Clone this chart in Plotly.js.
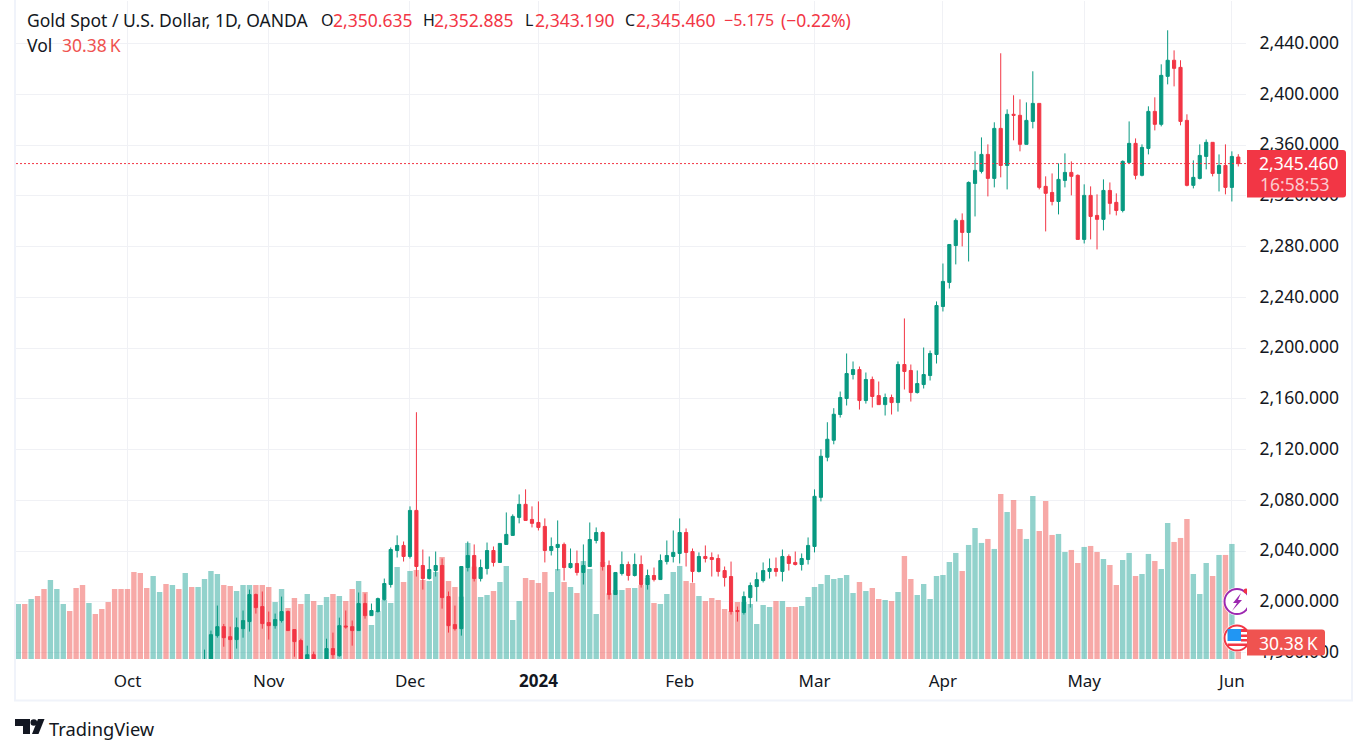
<!DOCTYPE html>
<html>
<head>
<meta charset="utf-8">
<script src="https://cdn.plot.ly/plotly-3.0.1.min.js"></script>
<style>
html,body{margin:0;padding:0;background:#fff;overflow:hidden}
#chart{width:1356px;height:754px}
</style>
</head>
<body>
<div id="chart"></div>
<script>
// volume in thousands, one value per daily bar
const volume = [
  99,99,108,113.4,126,142.2,126,99,86.4,127.8,
  133.2,100.8,81,90,102.6,126,126,126,156.6,154.8,
  127.8,149.4,120.6,135,133.2,126,154.8,129.6,129.6,144,
  158.4,153,133.2,131.4,122.4,133.2,133.2,133.2,133.2,129.6,
  102.6,126,91.8,109.8,99,117,104.4,97.2,111.6,117,
  113.4,104.4,126,140.4,120.6,61.2,86.4,106.2,100.8,165.6,
  138.6,158.4,160.2,142.2,140.4,156.6,183.6,140.4,129.6,112.2,
  208.8,166.2,111.6,115.2,122.4,138.6,167.4,70.2,104.4,145.8,
  142.2,136.8,156.6,120.6,162,138.6,129.6,118.8,176.4,162,
  81,174.6,118.2,124.2,124.2,127.8,127.8,133.2,145.8,100.8,
  99,117,156.6,167.4,140.4,136.8,113.4,104.4,109.8,106.2,
  90,86.4,102.6,102.6,99,63,97.2,93.6,104.4,104.4,
  93.6,93.6,95.4,111.6,129.6,135,151.2,144,145.8,151.2,
  118.8,138.6,122.4,127.8,108,106.2,104.4,120.6,185.4,144,
  115.2,135,108,149.4,151.2,174.6,190.8,158.4,205.2,235.8,
  208.8,216,198,297,264.6,286.2,234,216,293.4,230.4,
  284.4,223.2,225,192.6,196.2,172.8,201.6,203.4,192.6,180,
  169.2,133.2,178.2,190.8,149.4,153,189,176.4,162,244.8,
  210.6,217.8,252,153,117,172.8,149.4,187.2,187.2,207,
  30.38
];

// the candles of these first bars sit below the visible price range,
// so only the colour of their volume bar is known
const earlyVolumeUp = [1,0,1,0,0,1,1,1,0,0,0,1,0,0,0,0,0,0,0,0,0,1,1,0,1,0,1,0,1];

const candleStart = 29;
const opens = [
  1948.4,1951.0,1973.4,1980.5,1972.6,1970.3,1978.9,1984.5,2005.8,1996.3,
  1983.7,1981.3,1985.3,1992.4,1978.2,1969.5,1952.4,1958.4,1947.0,1952.4,
  1963.2,1957.6,1981.0,1980.5,1977.4,1998.7,1989.2,1992.4,2001.8,2013.7,
  2040.5,2044.5,2035.8,2072.1,2028.7,2018.4,2024.7,2028.7,2004.2,1982.1,
  1978.9,2027.1,2036.6,2018.4,2026.3,2040.5,2031.1,2045.3,2052.4,2066.6,
  2076.9,2065.0,2062.6,2059.5,2040.5,2042.9,2045.3,2027.1,2030.3,2023.2,
  2027.9,2048.4,2054.7,2028.7,2005.8,2022.4,2029.5,2020.8,2029.5,2013.7,
  2020.8,2017.6,2031.8,2035.8,2038.2,2054.7,2039.7,2024.0,2035.8,2035.0,
  2034.2,2024.7,2020.0,1993.2,1991.6,2003.4,2012.1,2016.8,2024.0,2026.3,
  2024.0,2035.8,2031.1,2029.5,2033.4,2043.7,2082.4,2114.0,2127.4,2147.7,
  2160.3,2179.2,2183.1,2158.7,2175.3,2162.6,2155.5,2161.1,2157.1,2187.1,
  2182.4,2165.0,2171.3,2178.4,2195.0,2232.8,2251.8,2280.9,2300.7,2291.2,
  2329.8,2339.3,2352.7,2333.8,2373.2,2344.0,2384.3,2383.5,2360.6,2378.7,
  2392.9,2327.5,2322.7,2315.6,2332.2,2338.5,2336.2,2285.7,2320.4,2304.6,
  2301.5,2324.3,2314.9,2308.5,2346.4,2361.4,2336.2,2357.4,2386.6,2376.4,
  2414.2,2426.9,2421.3,2379.5,2328.3,2333.8,2351.1,2362.2,2337.7,2344.0,
  2326.7,2350.635
];
const highs = [
  1962.4,1977.4,1997.1,1982.6,1980.5,1987.6,1993.2,2009.7,2006.6,2008.2,
  1992.4,1990.8,2004.2,1993.2,1978.2,1971.0,1965.5,1960.8,1954.0,1971.0,
  1975.8,1987.6,1993.2,1985.3,2007.4,2006.6,1998.7,2003.4,2018.4,2042.9,
  2052.4,2047.6,2075.3,2149.5,2041.3,2035.8,2039.7,2034.2,2008.2,1997.1,
  2027.9,2047.6,2045.3,2033.4,2046.8,2043.7,2046.1,2070.5,2069.0,2084.7,
  2088.7,2075.3,2079.2,2065.8,2050.8,2064.2,2046.8,2042.1,2040.5,2045.3,
  2062.6,2058.7,2055.5,2032.6,2023.2,2039.7,2031.8,2038.2,2036.6,2025.5,
  2027.1,2037.4,2048.4,2056.3,2065.8,2057.9,2042.1,2039.0,2044.5,2039.0,
  2037.4,2027.9,2031.8,1996.3,2008.2,2015.3,2023.2,2031.1,2034.2,2035.0,
  2041.3,2037.4,2039.7,2038.2,2050.8,2088.7,2120.3,2141.6,2152.7,2165.8,
  2195.8,2189.5,2185.5,2180.8,2177.6,2173.7,2164.2,2163.4,2189.5,2223.4,
  2187.1,2182.4,2200.5,2198.1,2236.8,2266.7,2281.7,2302.2,2306.2,2331.4,
  2355.1,2366.1,2360.6,2378.0,2432.4,2388.2,2399.3,2396.1,2393.7,2418.2,
  2392.9,2335.4,2337.7,2345.6,2353.5,2347.2,2336.9,2329.1,2327.5,2321.2,
  2333.0,2330.6,2322.0,2348.0,2378.7,2365.3,2360.6,2390.6,2397.7,2423.7,
  2450.5,2434.7,2426.9,2384.3,2348.0,2360.6,2364.5,2362.2,2352.7,2360.6,
  2355.1,2352.885
];
const lows = [
  1945.8,1949.7,1971.8,1964.7,1952.4,1963.2,1971.8,1976.6,1990.8,1978.9,
  1970.3,1978.9,1983.7,1977.4,1956.8,1948.4,1949.7,1951.0,1944.0,1951.0,
  1955.3,1956.8,1978.9,1965.5,1977.4,1986.8,1989.2,1991.6,2001.1,2011.3,
  2035.0,2031.8,2034.2,2020.0,2009.7,2017.6,2020.0,1994.7,1975.8,1977.4,
  1973.4,2024.0,2016.1,2016.1,2021.6,2027.9,2031.1,2045.3,2052.4,2061.9,
  2064.2,2058.7,2056.3,2031.1,2036.6,2024.7,2016.8,2026.3,2020.8,2013.7,
  2027.9,2046.1,2024.7,2001.8,2005.8,2020.8,2016.8,2020.0,2011.3,2009.7,
  2016.1,2017.6,2029.5,2031.1,2030.3,2027.9,2015.3,2023.2,2031.1,2020.0,
  2020.0,2012.1,1990.0,1984.5,1990.0,1995.5,2000.3,2015.3,2018.4,2020.0,
  2016.1,2024.7,2028.7,2024.7,2029.5,2039.0,2079.2,2110.8,2124.2,2145.3,
  2154.8,2175.3,2151.6,2156.3,2153.2,2155.5,2146.9,2147.7,2150.0,2167.4,
  2157.9,2164.2,2168.2,2174.5,2187.9,2228.9,2247.0,2266.0,2280.2,2268.3,
  2303.8,2337.7,2319.6,2326.7,2334.6,2325.1,2363.8,2355.1,2360.6,2373.2,
  2325.1,2292.0,2312.5,2305.4,2326.7,2320.4,2285.7,2282.5,2285.7,2277.8,
  2292.8,2305.4,2304.6,2307.0,2345.6,2333.0,2335.4,2352.7,2371.6,2374.8,
  2407.9,2406.3,2375.6,2327.5,2325.9,2333.0,2340.9,2335.4,2323.5,2321.2,
  2315.6,2343.19
];
const closes = [
  1952.4,1974.2,1980.5,1971.8,1970.3,1979.7,1985.3,2005.8,1995.5,1982.9,
  1981.3,1986.1,1992.4,1977.4,1968.7,1951.0,1958.4,1953.7,1952.0,1963.2,
  1958.4,1981.3,1980.3,1977.4,1998.7,1989.2,1993.2,2002.6,2014.5,2041.3,
  2044.5,2035.8,2072.1,2027.9,2018.4,2025.5,2028.7,2003.4,1981.3,1978.9,
  2027.9,2036.6,2018.4,2027.1,2040.5,2031.1,2046.1,2053.2,2067.4,2076.9,
  2064.2,2061.9,2058.7,2040.5,2043.7,2045.3,2027.1,2030.3,2023.2,2028.7,
  2049.2,2054.7,2027.9,2005.8,2023.2,2029.5,2020.8,2029.5,2013.7,2020.8,
  2017.6,2032.6,2036.6,2039.0,2054.7,2039.0,2024.0,2035.8,2034.2,2033.4,
  2024.0,2019.2,1992.4,1992.4,2004.2,2012.9,2017.6,2024.7,2026.3,2024.0,
  2035.8,2030.3,2029.5,2034.2,2044.5,2083.2,2114.8,2128.2,2147.9,2161.1,
  2180.0,2183.1,2158.7,2175.3,2161.9,2155.5,2161.1,2157.1,2187.1,2181.6,
  2165.0,2172.1,2179.2,2195.8,2233.6,2252.6,2281.7,2300.7,2291.2,2330.6,
  2340.1,2352.7,2333.8,2373.2,2344.0,2384.3,2383.5,2360.6,2379.5,2392.9,
  2326.7,2322.0,2315.6,2333.0,2338.5,2335.4,2285.7,2320.4,2303.8,2301.5,
  2324.3,2314.1,2308.5,2347.2,2361.4,2336.2,2358.2,2386.6,2376.4,2415.0,
  2426.9,2420.5,2378.7,2328.3,2334.6,2351.9,2362.2,2337.7,2344.0,2326.7,
  2351.1,2345.46
];

// bar index of the first trading day of each month
const monthTicks = [17,39,61,81,103,124,144,166,189];
const monthLabels = ['Oct','Nov','Dec','<b>2024</b>','Feb','Mar','Apr','May','Jun'];
const priceTicks = [1960,2000,2040,2080,2120,2160,2200,2240,2280,2320,2360,2400,2440];

const lastClose = 2345.46;

const UP = '#089981', DOWN = '#f23645', TEXT = '#131722', GRID = '#f0f1f5';
const FONT = '"Noto Sans", sans-serif';
const FONT_SIZE = 17.5;
const W = 1356, H = 754;

// the margins are zero, so paper fractions map straight to screen pixels
const px = x => x / W;
const py = y => 1 - y / H;

const volumeColors = volume.map((v, i) => {
    let up;
    if (i < candleStart) up = earlyVolumeUp[i];
    else up = closes[i - candleStart] >= opens[i - candleStart];
    return up ? 'rgba(38,166,154,0.5)' : 'rgba(239,83,80,0.5)';
});

const traces = [{
    type: 'bar',
    x: volume.map((v, i) => i),
    y: volume,
    yaxis: 'y',
    marker: {color: volumeColors, line: {width: 0}},
    hoverinfo: 'skip'
}, {
    type: 'candlestick',
    x: opens.map((v, i) => i + candleStart),
    open: opens,
    high: highs,
    low: lows,
    close: closes,
    yaxis: 'y2',
    whiskerwidth: 0,
    line: {width: 1},
    increasing: {line: {color: UP, width: 1}, fillcolor: UP},
    decreasing: {line: {color: DOWN, width: 1}, fillcolor: DOWN},
    hoverinfo: 'skip'
}];

function label(x, y, text, color, size, anchor) {
    return {
        xref: 'paper', yref: 'paper', x: px(x), y: py(y), text: text,
        showarrow: false, xanchor: anchor || 'left', yanchor: 'middle',
        borderpad: 0, borderwidth: 0,
        font: {family: FONT, size: size || FONT_SIZE, color: color || TEXT}
    };
}

function polygon(points, color) {
    const d = points.map((p, i) => (i ? 'L' : 'M') + px(p[0]) + ',' + py(p[1])).join(' ') + ' Z';
    return {type: 'path', xref: 'paper', yref: 'paper', path: d, fillcolor: color, line: {width: 0}, layer: 'above'};
}

function disc(cx, cy, r, fill, stroke, sw) {
    return {
        type: 'circle', xref: 'paper', yref: 'paper', layer: 'above',
        x0: px(cx - r), x1: px(cx + r), y0: py(cy - r), y1: py(cy + r),
        fillcolor: fill, line: {color: stroke || fill, width: sw || 0}
    };
}

function box(x0, y0, x1, y1, color) {
    return {
        type: 'rect', xref: 'paper', yref: 'paper', layer: 'above',
        x0: px(x0), x1: px(x1), y0: py(y0), y1: py(y1),
        fillcolor: color, line: {width: 0}
    };
}

// tag with rounded right corners
function tag(x0, y0, x1, y1, color) {
    const r = 3;
    const d = 'M' + px(x0) + ',' + py(y0) +
        ' L' + px(x1 - r) + ',' + py(y0) +
        ' Q' + px(x1) + ',' + py(y0) + ' ' + px(x1) + ',' + py(y0 + r) +
        ' L' + px(x1) + ',' + py(y1 - r) +
        ' Q' + px(x1) + ',' + py(y1) + ' ' + px(x1 - r) + ',' + py(y1) +
        ' L' + px(x0) + ',' + py(y1) + ' Z';
    return {type: 'path', xref: 'paper', yref: 'paper', path: d, fillcolor: color, line: {width: 0}, layer: 'above'};
}

const shapes = [
    // chart frame
    {type: 'rect', xref: 'paper', yref: 'paper', layer: 'below', x0: px(15), x1: px(1352), y0: py(700.5), y1: py(-2),
     fillcolor: 'rgba(0,0,0,0)', line: {color: '#f0f3fa', width: 2}},
    // last price line
    {type: 'line', xref: 'x', yref: 'y2', x0: -0.36, x1: 191.2, y0: lastClose, y1: lastClose,
     line: {color: DOWN, width: 1, dash: '2px 2px'}, layer: 'above'},
    // events badges
    disc(1237, 601.5, 14, '#ffffff'),
    disc(1237, 601.5, 12.5, '#ffffff', '#9c27b0', 2),
    polygon([[1241,593],[1233,603],[1237,603],[1232,611],[1242,600],[1238,600]], '#9c27b0'),
    disc(1246, 591, 2.5, DOWN),
    disc(1237, 638, 14, '#ffffff'),
    disc(1237, 638, 12.5, '#ffffff', DOWN, 2),
    box(1227.5, 629, 1241, 641, '#2196f3'),
    box(1241, 629, 1247, 632, DOWN),
    box(1241, 634.5, 1247, 637, DOWN),
    box(1241, 639, 1247, 641.5, DOWN),
    box(1227.5, 643.5, 1247, 646, DOWN),
    box(1247, 585, 1252, 625, '#ffffff'),
    // price and volume tags
    tag(1247, 150, 1346, 197.5, DOWN),
    tag(1247, 629.5, 1325, 655.5, '#ef5350'),
    // logo
    polygon([[15,719],[30,719],[30,734],[23,734],[23,726],[15,726]], TEXT),
    disc(33.8, 722.5, 3.3, TEXT),
    polygon([[38,719],[44.5,719],[38.5,734],[32,734]], TEXT)
];

const annotations = [
    label(27, 20, 'Gold Spot / U.S. Dollar, 1D, OANDA'),
    label(320.5, 20, 'O', TEXT, 16), label(333, 20, '2,350.635', DOWN),
    label(422.5, 20, 'H', TEXT, 16), label(434, 20, '2,352.885', DOWN),
    label(525, 20, 'L', TEXT, 16), label(535, 20, '2,343.190', DOWN),
    label(625, 20, 'C', TEXT, 16), label(636, 20, '2,345.460', DOWN),
    label(724, 20, '\u22125.175', DOWN, 16),
    label(781, 20, '(\u22120.22%)', DOWN),
    label(27, 45, 'Vol'),
    label(62, 45, '30.38\u2009K', '#ef5350'),
    label(1259, 162.7, '2,345.460', '#ffffff'),
    label(1260, 183.7, '16:58:53', 'rgba(255,255,255,0.75)'),
    label(1259, 642.5, '30.38\u2009K', '#ffffff'),
    label(48.5, 728, 'TradingView', TEXT, 18.3)
];

const layout = {
    width: W,
    height: H,
    margin: {l: 0, r: 0, t: 0, b: 0, pad: 0},
    paper_bgcolor: '#ffffff',
    plot_bgcolor: '#ffffff',
    showlegend: false,
    bargap: 0.16,
    boxgap: 0.3,
    font: {family: FONT, color: TEXT, size: FONT_SIZE},
    xaxis: {
        domain: [px(16), px(1246)],
        range: [-0.36, 191.2],
        type: 'linear',
        rangeslider: {visible: false},
        tickmode: 'array',
        tickvals: monthTicks,
        ticktext: monthLabels,
        ticks: 'outside',
        ticklen: 7,
        tickcolor: 'rgba(0,0,0,0)',
        showgrid: true,
        gridcolor: GRID,
        gridwidth: 1,
        zeroline: false,
        showline: false,
        tickfont: {family: FONT, size: 17, color: TEXT}
    },
    yaxis: {
        domain: [py(659), py(1)],
        range: [0, 1184],
        visible: false,
        showgrid: false,
        zeroline: false,
        fixedrange: true
    },
    yaxis2: {
        overlaying: 'y',
        side: 'right',
        anchor: 'x',
        range: [1955, 2473.6],
        tickmode: 'array',
        tickvals: priceTicks,
        ticktext: priceTicks.map(v => v.toLocaleString('en-US', {minimumFractionDigits: 3})),
        ticks: 'outside',
        ticklen: 9,
        ticklabelshift: -1,
        tickcolor: 'rgba(0,0,0,0)',
        showgrid: true,
        gridcolor: GRID,
        gridwidth: 1,
        zeroline: false,
        showline: false,
        tickfont: {family: FONT, size: FONT_SIZE, color: TEXT}
    },
    shapes: shapes,
    annotations: annotations
};

Plotly.newPlot('chart', traces, layout, {displayModeBar: false, staticPlot: true});
</script>
</body>
</html>
